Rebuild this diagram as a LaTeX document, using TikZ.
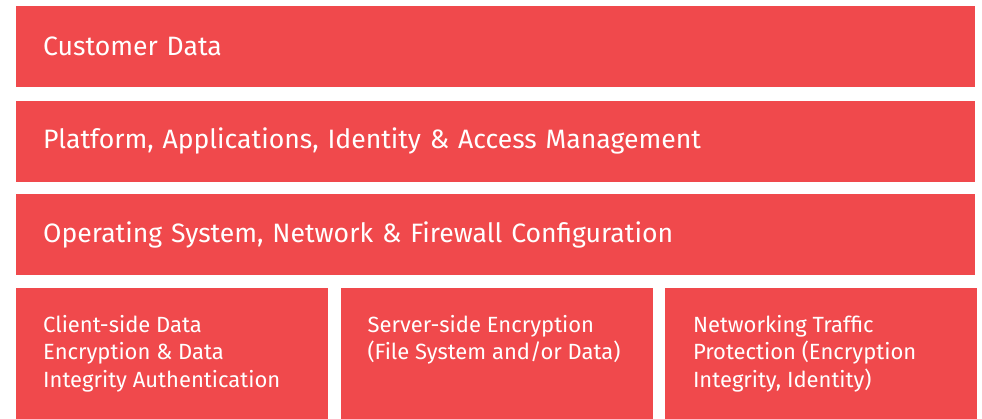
\documentclass[tikz,border=0pt]{standalone}
\usepackage{fontspec}
\setmainfont{Fira Sans}
\usetikzlibrary{positioning}
\definecolor{layerred}{HTML}{F0494C}
\tikzset{
  layer/.style={
    fill=layerred,text=white,anchor=north west,inner sep=0pt,
    minimum width=959pt,minimum height=81pt,text width=905pt,
    align=left,font=\fontsize{26.6}{30}\selectfont,
  },
  part/.style={
    fill=layerred,inner sep=0pt,minimum width=312pt,minimum height=131pt,
  },
  parttext/.style={
    text=white,inner sep=0pt,anchor=north west,
    align=left,font=\fontsize{22}{27.5}\selectfont,
  },
}

\begin{document}
\begin{tikzpicture}[x=1pt,y=1pt]
      \useasboundingbox (0,0) rectangle (982,-418);
      \node[layer] (customer) at (16,-6) { Customer Data };
      \node[layer,below=13pt of customer] (platform) { Platform, Applications, Identity \& Access Management };
      \node[layer,below=12pt of platform] (os) { Operating System, Network \& Firewall Configuration };

      \node[part,below=13pt of os.south west,anchor=north west] (client) {};
      \node[part,right=12pt of client] (server) {};
      \node[part,right=12pt of server] (traffic) {};

      \node[parttext] (clienttext) at ([shift={(27,-26.5)}]client.north west) { Client-side Data\\Encryption \& Data\\Integrity Authentication };
      \node[parttext] (servertext) at ([shift={(27,-26.5)}]server.north west) { Server-side Encryption\\(File System and/or Data) };
      \node[parttext] (traffictext) at ([shift={(28,-26.5)}]traffic.north west) { Networking Traffic\\Protection (Encryption\\Integrity, Identity) };
\end{tikzpicture}
\end{document}
